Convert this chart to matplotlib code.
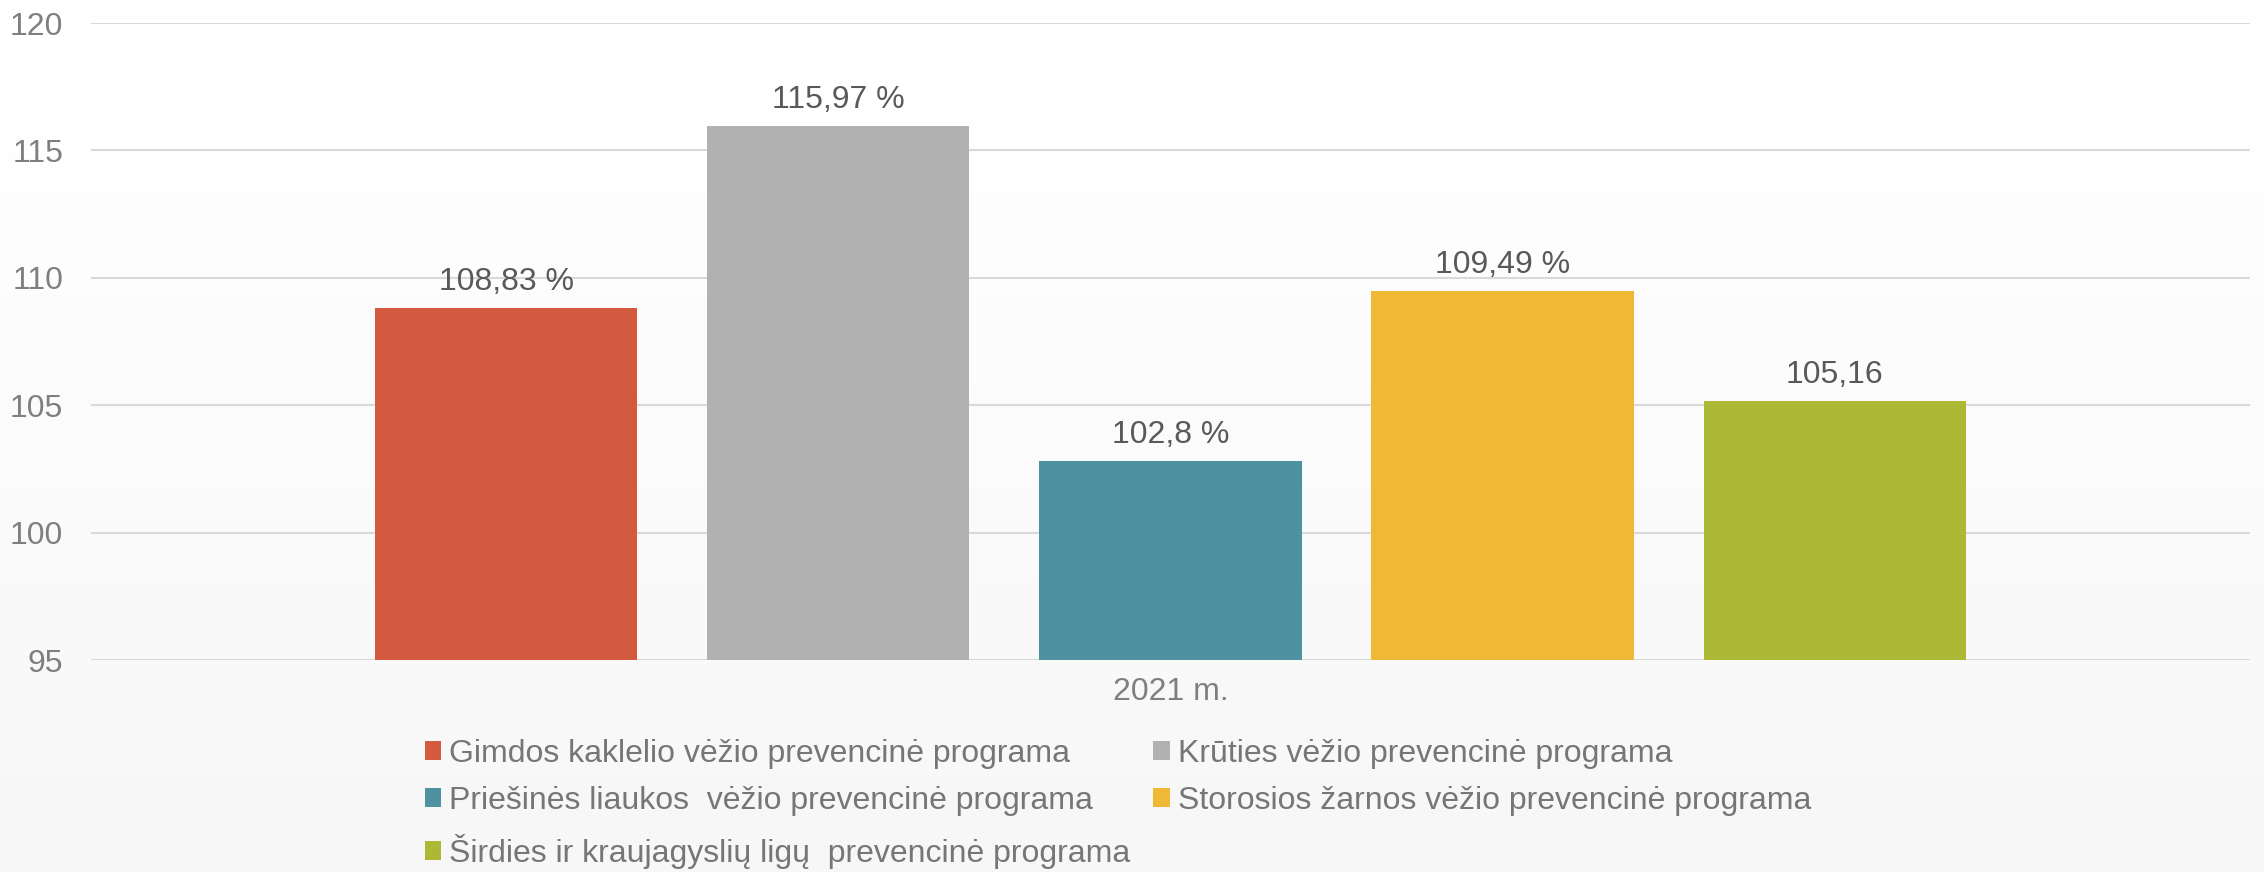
import numpy as np
import matplotlib
matplotlib.use("Agg")
import matplotlib.pyplot as plt
from matplotlib.patches import Patch

plt.rcParams['font.family'] = ['Liberation Sans', 'DejaVu Sans']

# duomenys
category = "2021 m."
programs = [
    "Gimdos kaklelio vėžio prevencinė programa",
    "Krūties vėžio prevencinė programa",
    "Priešinės liaukos  vėžio prevencinė programa",
    "Storosios žarnos vėžio prevencinė programa",
    "Širdies ir kraujagyslių ligų  prevencinė programa",
]
values = [108.83, 115.97, 102.8, 109.49, 105.16]
value_labels = ["108,83 %", "115,97 %", "102,8 %", "109,49 %", "105,16"]
colors = ["#D35A3E", "#B1B1B1", "#4E91A0", "#F0B935", "#ADB837"]
yticks = [95, 100, 105, 110, 115, 120]

fig = plt.figure(figsize=(22.64, 8.72), dpi=100)

# fonas su gradientu
bg = fig.add_axes([0, 0, 1, 1], zorder=-10)
grad = np.linspace(1.0, 0.965, 256).reshape(-1, 1)
bg.imshow(grad, aspect='auto', cmap='gray', vmin=0, vmax=1, extent=[0, 1, 0, 1])
bg.axis('off')

ax = fig.add_axes([0.0402, 0.2431, 0.9536, 0.7305])
ax.patch.set_alpha(0)

width = 0.1214
step = 0.1538
n = len(values)
for i, (v, c, lab) in enumerate(zip(values, colors, value_labels)):
    x = (i - (n - 1) / 2) * step
    ax.bar(x, v - 95, bottom=95, width=width, color=c, zorder=3)
    ax.annotate(lab, (x, v), xytext=(0, 8), textcoords='offset points',
                ha='center', va='bottom', fontsize=23, color='#595959')

ax.set_xlim(-0.5, 0.5)
ax.set_ylim(95, 120)
ax.set_yticks(yticks)
ax.set_yticklabels([str(t) for t in yticks])
ax.set_xticks([0])
ax.set_xticklabels([category])
ax.tick_params(axis='both', length=0, labelsize=23, labelcolor='#7F7F7F')
ax.tick_params(axis='y', pad=20)
ax.tick_params(axis='x', pad=12)
ax.grid(axis='y', color='#D9D9D9', linewidth=1.5, zorder=0)
for s in ax.spines.values():
    s.set_visible(False)

handles = [Patch(facecolor=c, edgecolor='none') for c in colors]
order = [0, 2, 4, 1, 3]
fig.legend([handles[i] for i in order], [programs[i] for i in order],
           ncol=2, loc='upper left', bbox_to_anchor=(0.1875, 0.153),
           frameon=False, fontsize=23, labelcolor='#767676',
           handlelength=0.53, handleheight=0.53, handletextpad=0.25,
           columnspacing=0.7, labelspacing=0.55, borderpad=0, borderaxespad=0)

fig.savefig("out.png", dpi=100)
